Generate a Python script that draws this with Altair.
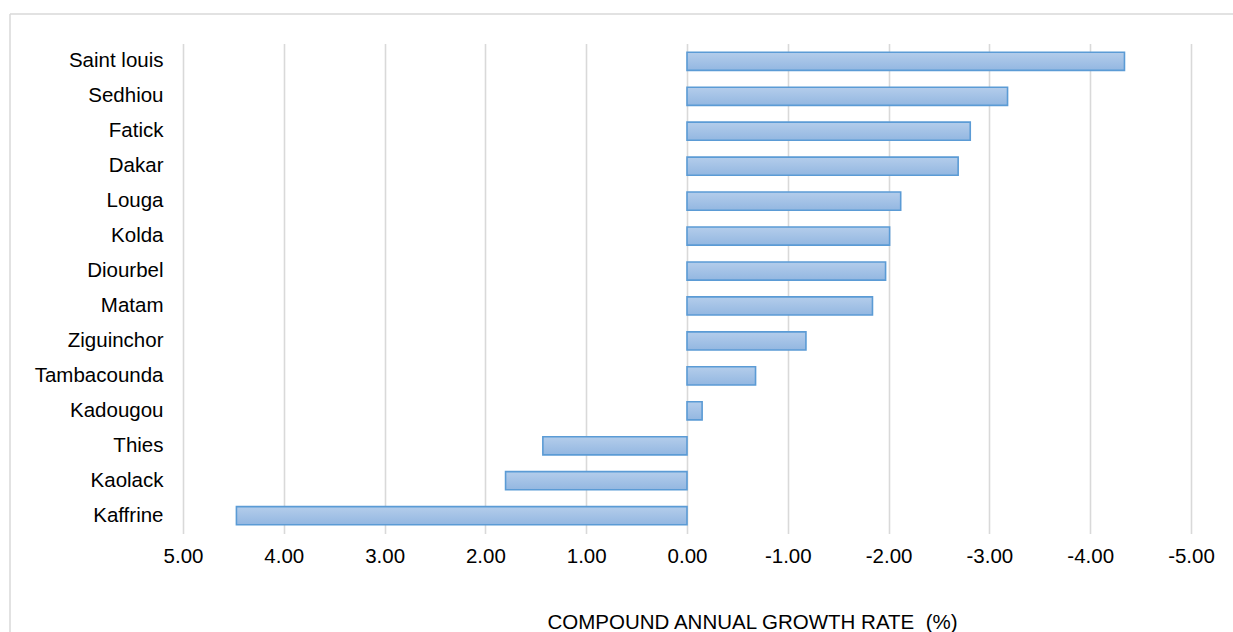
import altair as alt
import pandas as pd

# Regions, top to bottom, with their compound annual growth rate (%)
regions = ["Saint louis", "Sedhiou", "Fatick", "Dakar", "Louga", "Kolda", "Diourbel",
           "Matam", "Ziguinchor", "Tambacounda", "Kadougou", "Thies", "Kaolack", "Kaffrine"]
growth = [-4.34, -3.18, -2.81, -2.69, -2.12, -2.01, -1.97,
          -1.84, -1.18, -0.68, -0.15, 1.43, 1.80, 4.47]
tick_values = [5, 4, 3, 2, 1, 0, -1, -2, -3, -4, -5]

df = pd.DataFrame({"region": regions, "cagr": growth})

FONT = "Liberation Sans"
FS = 20.5
W, H = 1008, 490

bar_fill = alt.Gradient(
    gradient="linear",
    stops=[alt.GradientStop(color="#b4cdeb", offset=0),
           alt.GradientStop(color="#93b7e1", offset=1)],
    x1=0, x2=0, y1=0, y2=1,
)

bars = alt.Chart(df).mark_bar(
    color=bar_fill, stroke="#5b9bd5", strokeWidth=1.6,
).encode(
    x=alt.X("cagr:Q",
            scale=alt.Scale(domain=[-5, 5], reverse=True, nice=False),
            axis=alt.Axis(values=tick_values,
                          labelExpr="replace(format(datum.value, '.2f'), '\u2212', '-')",
                          labelFlush=False, labelOverlap=False,
                          title="COMPOUND ANNUAL GROWTH RATE \u00a0(%)",
                          titleX=569, titleY=95, titleAnchor="start",
                          titleAlign="center", titleBaseline="alphabetic",
                          labelPadding=13, tickSize=0, domain=False,
                          grid=True, gridColor="#d9d9d9", gridWidth=1.6)),
    x2=alt.datum(0),
    y=alt.Y("region:N", sort=regions,
            scale=alt.Scale(paddingInner=0.48, paddingOuter=0.25),
            axis=alt.Axis(title=None, tickSize=0, domain=False, grid=False,
                          labelPadding=20)),
)

# Light frame around the chart area
frame_src = alt.Data(values=[{"k": 1}])
frame_top = alt.Chart(frame_src).mark_rule(color="#d9d9d9", strokeWidth=1.5).encode(
    x=alt.value(-173), x2=alt.value(W + 60), y=alt.value(-29.5))
frame_left = alt.Chart(frame_src).mark_rule(color="#d9d9d9", strokeWidth=1.5).encode(
    x=alt.value(-173), y=alt.value(-29.5), y2=alt.value(H + 120))

chart = alt.layer(frame_top, frame_left, bars).properties(
    width=W, height=H,
    autosize=alt.AutoSizeParams(type="none"),
    padding={"left": 183, "top": 43.5, "right": 42, "bottom": 98},
    background="white",
).configure_view(stroke=None).configure_axis(
    labelFont=FONT, titleFont=FONT, labelFontSize=FS, titleFontSize=FS,
    labelColor="#000000", titleColor="#000000", titleFontWeight="normal",
)

chart.save("out.html", embed_options={"renderer": "svg", "actions": False})
